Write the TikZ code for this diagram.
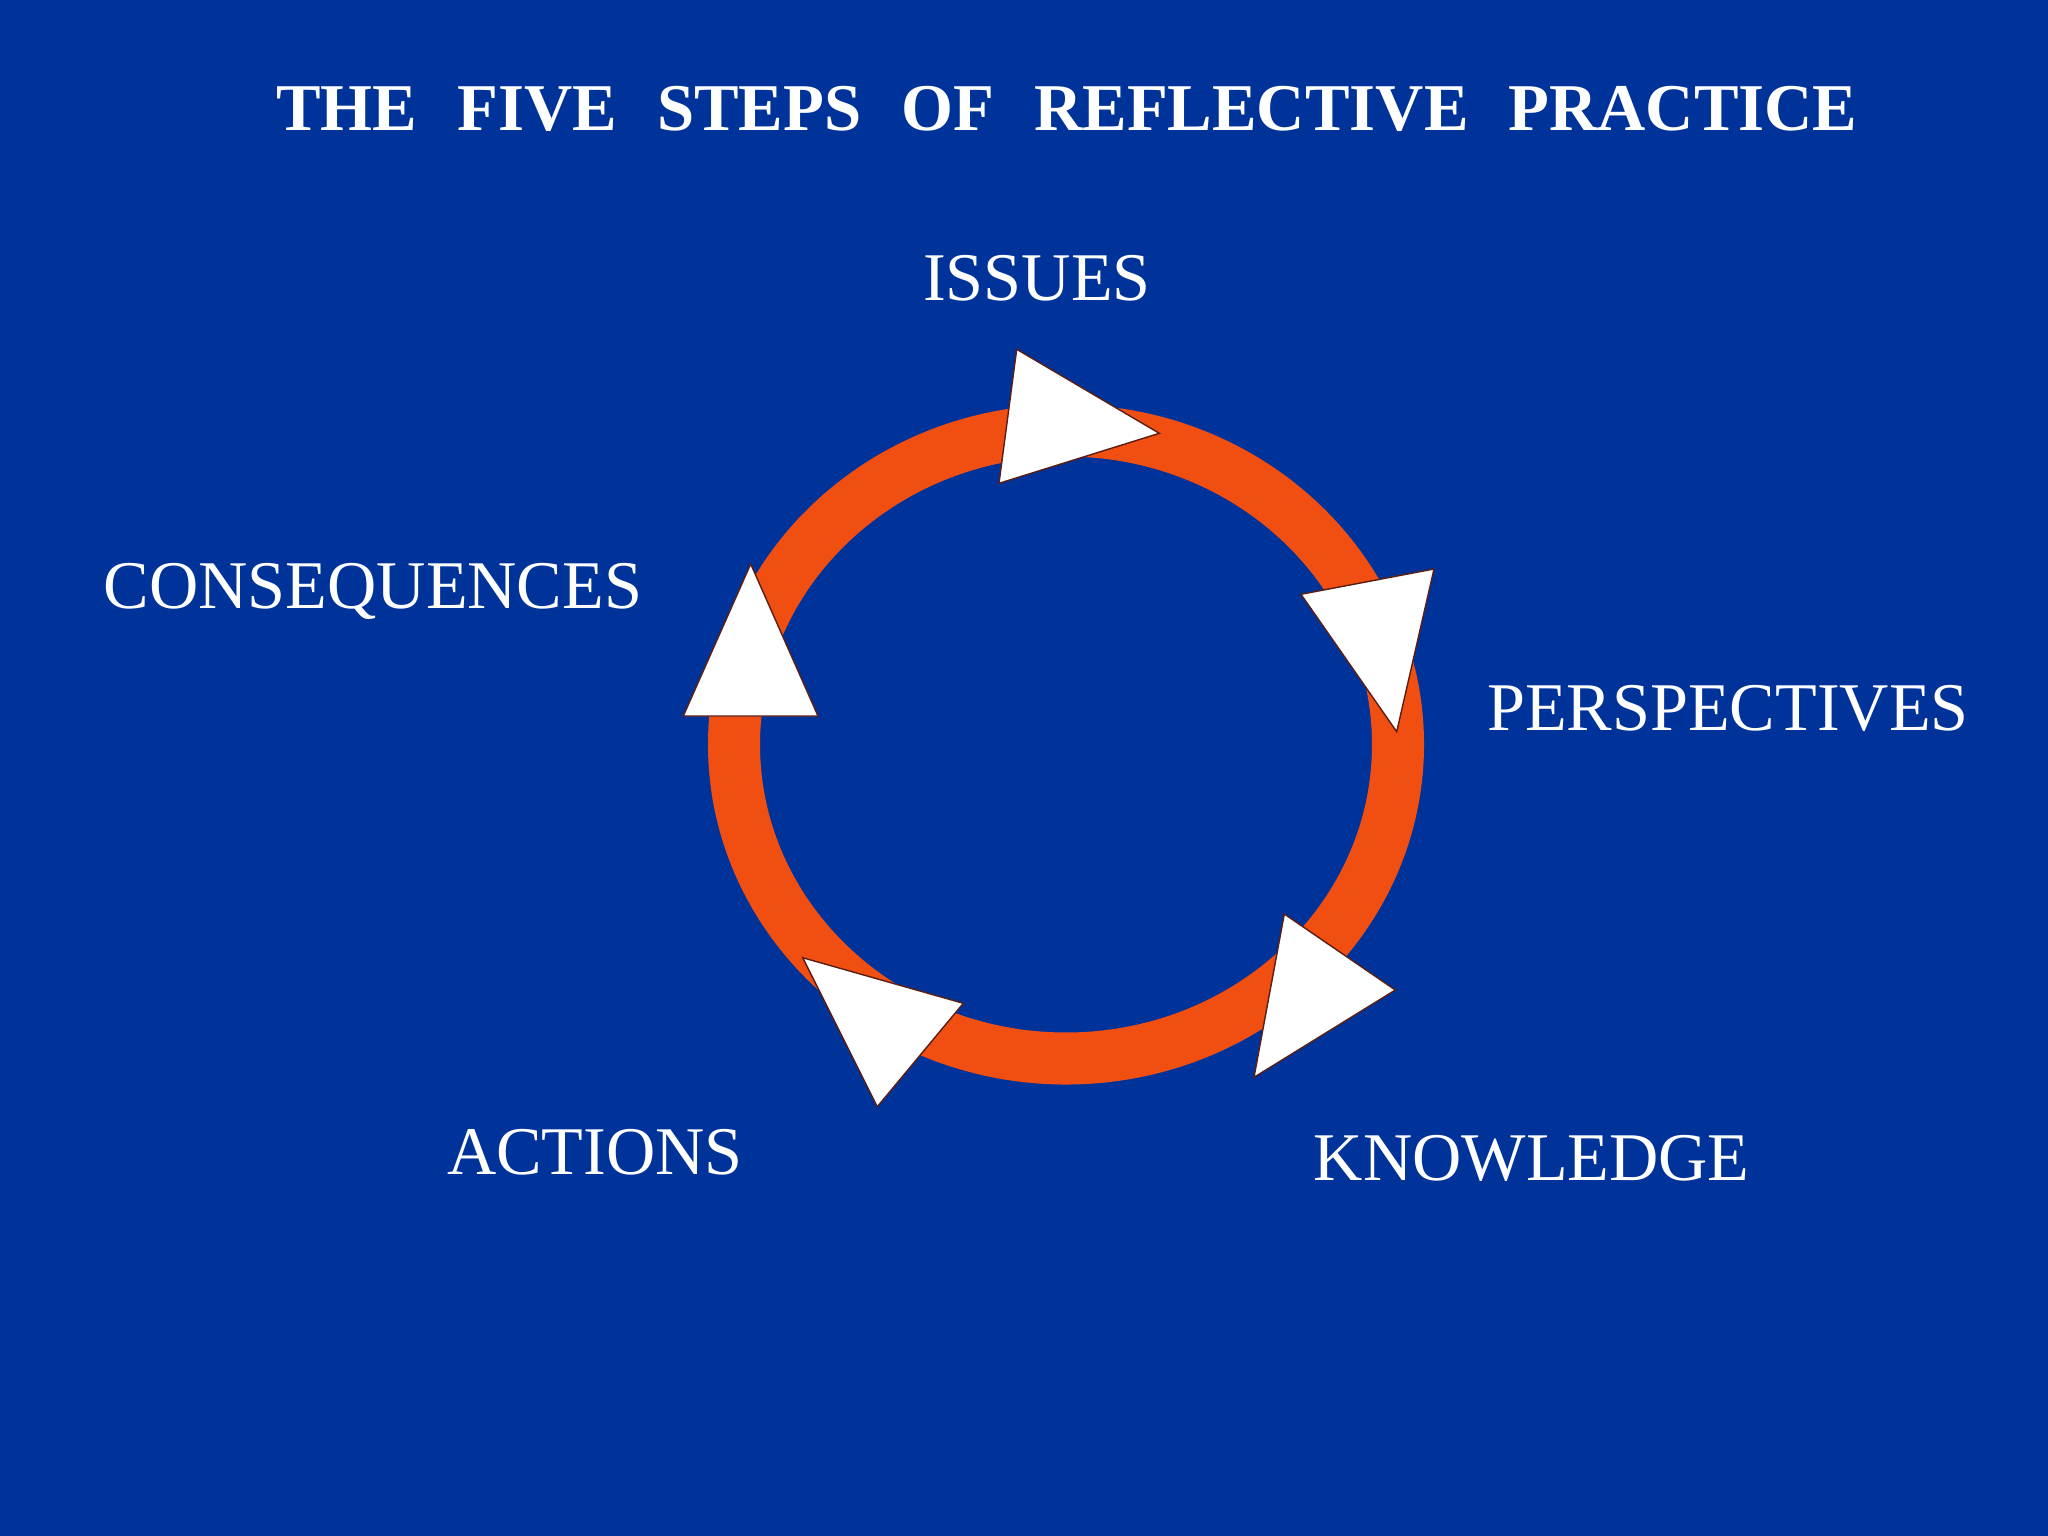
\documentclass[tikz,border=0pt]{standalone}
\usepackage{fontspec}
\setmainfont{Liberation Serif}
\definecolor{bgblue}{RGB}{0,51,153}
\definecolor{ringorange}{RGB}{241,78,18}
\definecolor{triedge}{RGB}{90,30,20}
\tikzset{
  lbl/.style={text=white, anchor=base, inner sep=0pt, font=\fontsize{19.4pt}{23pt}\selectfont},
  ttl/.style={text=white, anchor=base, inner sep=0pt, font=\bfseries\fontsize{19pt}{23pt}\selectfont},
  ring/.style={draw=ringorange, line width=0.52cm},
  tri/.style={fill=white, draw=triedge, line width=0.4pt, line join=miter}
}
\begin{document}
\begin{tikzpicture}[x=0.01cm,y=-0.01cm]
\fill[bgblue] (0,0) rectangle (2048,1536);
\useasboundingbox (0,0) rectangle (2048,1536);
% title
\node[ttl] (title) at (1067,130) {THE\hspace{0.40cm}FIVE\hspace{0.40cm}STEPS\hspace{0.40cm}OF\hspace{0.40cm}REFLECTIVE\hspace{0.40cm}PRACTICE};
% ring
\coordinate (c) at (1066,744.5);
\draw[ring] (c) ellipse [x radius=332, y radius=314];
% triangles (arrowheads)
\draw[tri] (1016.7,349.3) -- (1159.3,433.3) -- (999,483.3) -- cycle;
\draw[tri] (1301,594.3) -- (1434,569) -- (1396.7,731.7) -- cycle;
\draw[tri] (1284.3,914) -- (1395.3,990) -- (1254,1077.3) -- cycle;
\draw[tri] (802.7,957.7) -- (963.3,1003.3) -- (877.3,1106.7) -- cycle;
\draw[tri] (750.7,564) -- (818,716) -- (683.3,716) -- cycle;
% labels
\node[lbl] (issues) at (1037,300) {ISSUES};
\node[lbl] (persp) at (1728,730) {PERSPECTIVES};
\node[lbl] (know) at (1531.7,1180) {KNOWLEDGE};
\node[lbl] (actions) at (595,1174) {ACTIONS};
\node[lbl] (conseq) at (373,608) {CONSEQUENCES};
\end{tikzpicture}
\end{document}
